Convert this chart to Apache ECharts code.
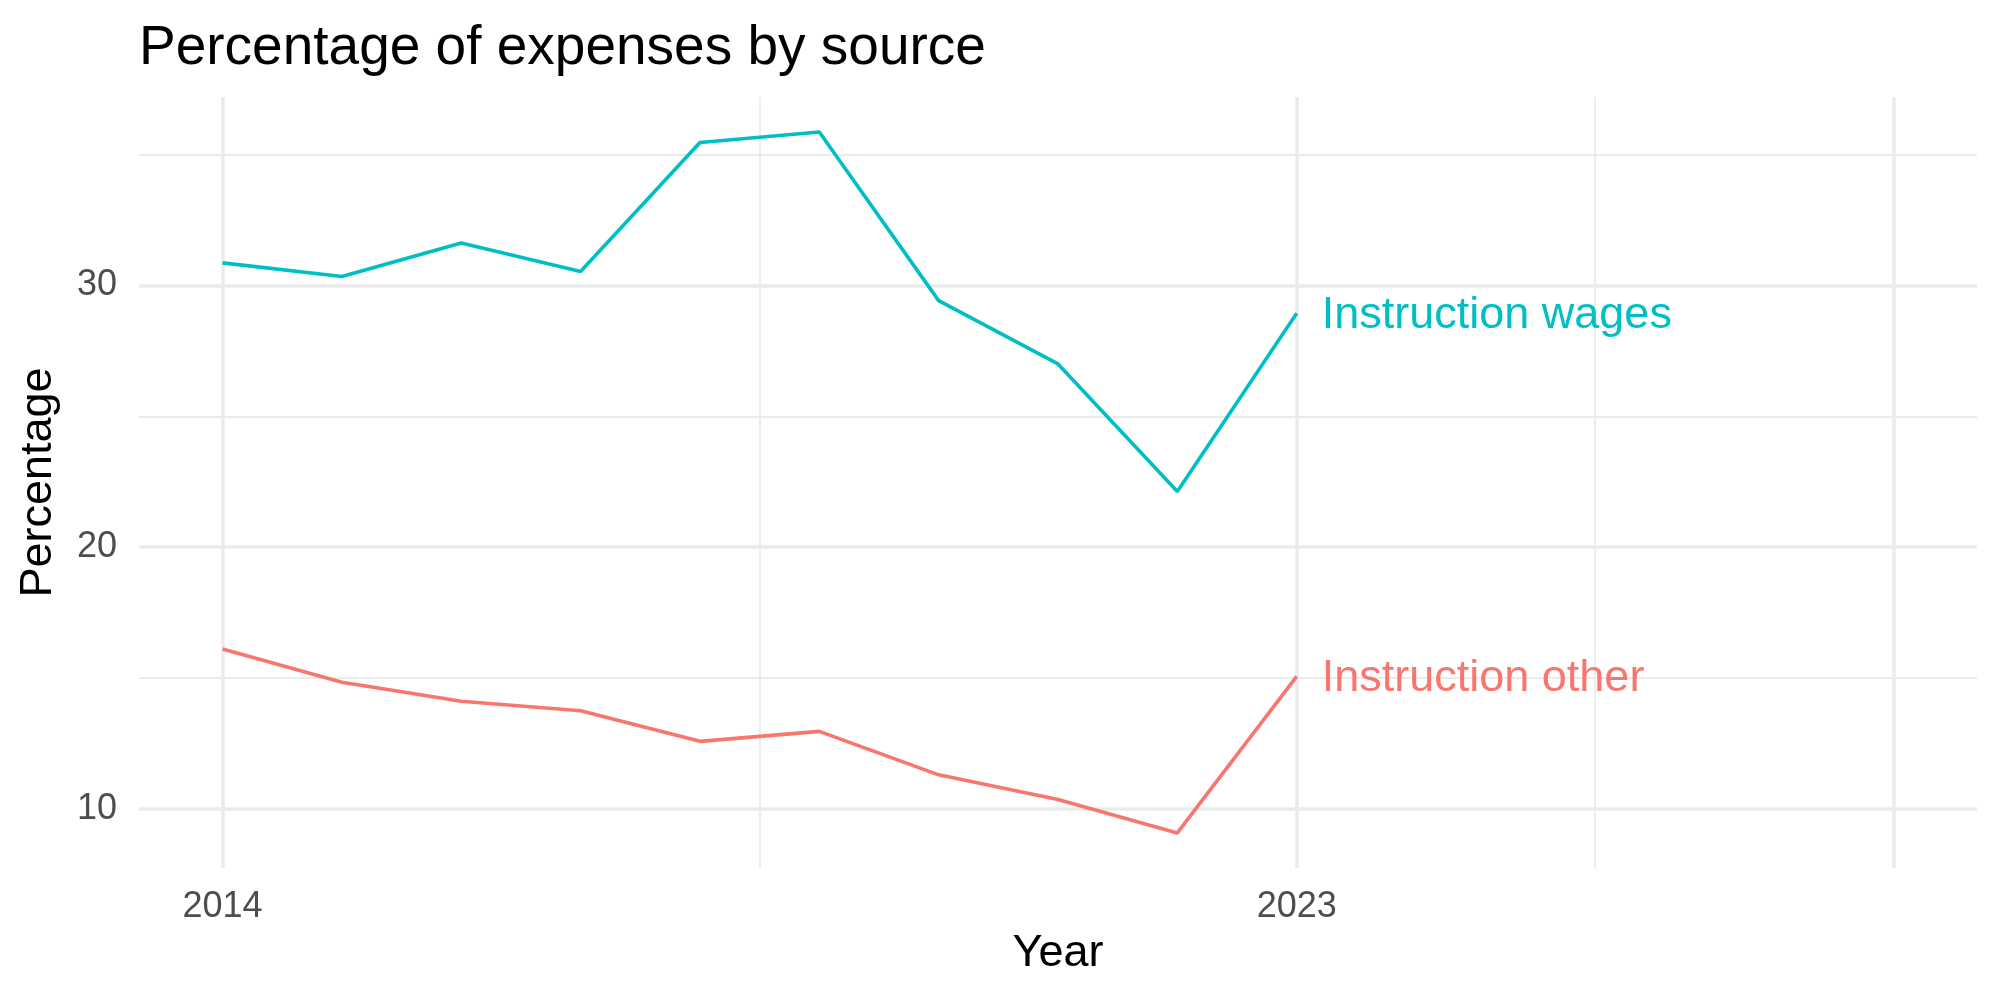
<!DOCTYPE html>
<html>
<head>
<meta charset="utf-8">
<title>Percentage of expenses by source</title>
<script src="https://cdn.jsdelivr.net/npm/echarts@6/dist/echarts.min.js"></script>
<style>
  html, body { margin: 0; padding: 0; background: #fff; }
  #chart { width: 2000px; height: 1000px; }
</style>
</head>
<body>
<div id="chart"></div>
<script>
const years = [2014, 2015, 2016, 2017, 2018, 2019, 2020, 2021, 2022, 2023];
const wages = [30.86, 30.34, 31.62, 30.53, 35.46, 35.86, 29.42, 27.0, 22.13, 28.94];
const other = [16.11, 14.84, 14.11, 13.75, 12.58, 12.96, 11.30, 10.36, 9.08, 15.06];

const xTickLabels = [2014, 2023];
const yTickLabels = [10, 20, 30];
const xMajorGrid = [2014, 2023, 2028];
const xMinorGrid = [2018.5, 2025.5];
const yMajorGrid = [10, 20, 30];
const yMinorGrid = [15, 25, 35];

const gridColor = '#EBEBEB';
const font = "'Liberation Sans', Arial, sans-serif";

const chart = echarts.init(document.getElementById('chart'));

function gridLines(values, key, width) {
  return values.map((v) => ({ [key]: v, lineStyle: { color: gridColor, width: width, type: 'solid' } }));
}

function lineSerie(name, values, color) {
  return {
    name: name,
    type: 'line',
    z: 3,
    data: years.map((y, i) => [y, values[i]]),
    showSymbol: false,
    symbol: 'none',
    lineStyle: { color: color, width: 3.6 },
    itemStyle: { color: color },
    endLabel: {
      show: true,
      formatter: '{a}',
      color: color,
      fontSize: 45,
      fontFamily: font,
      distance: 25,
      offset: [0, 2]
    }
  };
}

const options = {
  animation: false,
  textStyle: { fontFamily: font },
  title: {
    text: 'Percentage of expenses by source',
    left: 139,
    top: 21,
    padding: 0,
    textStyle: { fontSize: 55, fontWeight: 'normal', color: '#000', fontFamily: font }
  },
  grid: { left: 139, right: 23, top: 97, bottom: 132, containLabel: false },
  xAxis: {
    type: 'value',
    min: 2013.3,
    max: 2028.7,
    name: 'Year',
    nameLocation: 'middle',
    nameGap: 63,
    nameTextStyle: { fontSize: 45, color: '#000', fontFamily: font },
    axisLine: { show: false },
    axisTick: { show: false },
    splitLine: { show: false },
    axisLabel: {
      customValues: xTickLabels,
      formatter: (v) => String(v),
      fontSize: 36,
      color: '#4D4D4D',
      margin: 21
    }
  },
  yAxis: {
    type: 'value',
    min: 7.741,
    max: 37.199,
    name: 'Percentage',
    nameLocation: 'middle',
    nameRotate: 90,
    nameGap: 78,
    nameTextStyle: { fontSize: 45, color: '#000', fontFamily: font },
    axisLine: { show: false },
    axisTick: { show: false },
    splitLine: { show: false },
    axisLabel: {
      customValues: yTickLabels,
      formatter: (v) => String(v),
      fontSize: 36,
      color: '#4D4D4D',
      margin: 22
    }
  },
  series: [
    {
      type: 'line',
      data: [],
      z: 1,
      silent: true,
      markLine: {
        z: 1,
        silent: true,
        animation: false,
        symbol: ['none', 'none'],
        label: { show: false },
        emphasis: { disabled: true },
        data: [
          ...gridLines(yMinorGrid, 'yAxis', 1.8),
          ...gridLines(xMinorGrid, 'xAxis', 1.8),
          ...gridLines(yMajorGrid, 'yAxis', 3.5),
          ...gridLines(xMajorGrid, 'xAxis', 3.5)
        ]
      }
    },
    lineSerie('Instruction other', other, '#F8766D'),
    lineSerie('Instruction wages', wages, '#00BFC4')
  ]
};

chart.setOption(options);
</script>
</body>
</html>
